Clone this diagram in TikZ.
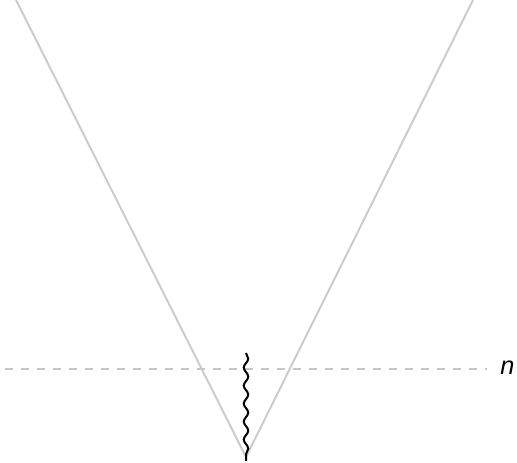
\documentclass[tikz,border=0pt]{standalone}
\usepackage{fontspec}
\setmainfont{Liberation Sans}
\usetikzlibrary{decorations.pathmorphing}
\tikzset{
  cone/.style={draw=black!20, line width=1.5pt},
  horizon/.style={draw=black!22, dash pattern=on 6pt off 6pt, line width=0.8pt},
  wave/.style={draw=black, line width=1.5pt, decorate, decoration={snake, amplitude=1.7pt, segment length=13.5pt}}
}
\begin{document}
\begin{tikzpicture}[x=0.75pt,y=-0.75pt]
\useasboundingbox (0,0) rectangle (517,463);
\coordinate (apex) at (246,457);
\coordinate (tl) at (16,0);
\coordinate (tr) at (473,0);
\coordinate (hl) at (5,369);
\coordinate (hr) at (487,369);
\coordinate (wtop) at (246,353);
\coordinate (wbot) at (246,461);
\draw[cone] (tl) -- (apex) -- (tr);
\draw[horizon] (hl) -- (hr);
\node[anchor=center, font=\fontsize{19}{21}\selectfont\itshape] (n) at (507.5,368) {n};
\draw[wave] (wtop) -- (wbot);
\end{tikzpicture}
\end{document}
